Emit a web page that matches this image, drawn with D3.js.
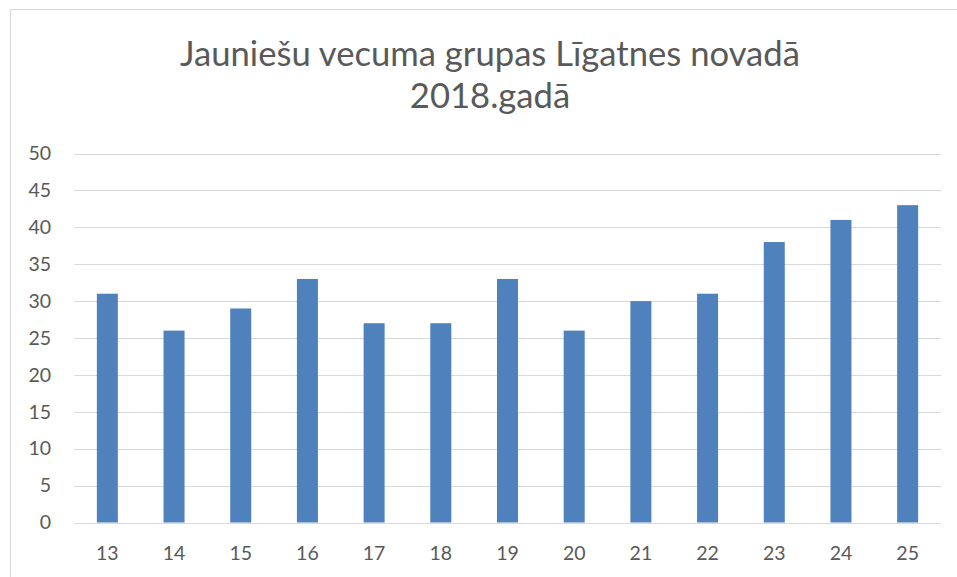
<!DOCTYPE html>
<html><head><meta charset="utf-8">
<script src="https://cdn.jsdelivr.net/npm/d3@7"></script>
<style>body{margin:0;background:#fff}svg{display:block}</style>
</head><body>
<svg id="c" width="957" height="577"></svg>
<script>
const titleLines = ["Jauniešu vecuma grupas Līgatnes novadā", "2018.gadā"];
const categories = ["13","14","15","16","17","18","19","20","21","22","23","24","25"];
const values = [31, 26, 29, 33, 27, 27, 33, 26, 30, 31, 38, 41, 43];
const yTicks = [0, 5, 10, 15, 20, 25, 30, 35, 40, 45, 50];

const svg = d3.select("#c");
const font = "Lato, 'Open Sans', sans-serif";
const txt = "#595959";

// chart border
svg.append("path").attr("d", "M10.5,577 L10.5,9.5 L957,9.5")
  .attr("fill", "none").attr("stroke", "#d9d9d9").attr("stroke-width", 1);

const x = d3.scaleBand().domain(categories).range([74, 941]).paddingInner(0.685).paddingOuter(0.3425);
const y = d3.scaleLinear().domain([0, 50]).range([522.5, 153.5]);

// gridlines
svg.append("g").selectAll("line").data(yTicks).join("line")
  .attr("x1", 74).attr("x2", 941)
  .attr("y1", d => Math.round(y(d)) + 0.5).attr("y2", d => Math.round(y(d)) + 0.5)
  .attr("stroke", "#d9d9d9").attr("stroke-width", 1);

// bars
svg.append("g").selectAll("rect").data(values).join("rect")
  .attr("x", (d, i) => x(categories[i]))
  .attr("width", x.bandwidth())
  .attr("y", d => y(d))
  .attr("height", d => y(0) - y(d))
  .attr("fill", "#4f81bd");

// y axis labels
const yAxis = d3.axisLeft(y).tickValues(yTicks).tickSize(0).tickPadding(0);
const gy = svg.append("g").attr("transform", "translate(51,0)").call(yAxis);
gy.select(".domain").remove();
gy.selectAll("text").attr("font-family", font).attr("font-size", 19.5).attr("fill", txt);

// x axis labels
const xAxis = d3.axisBottom(x).tickSize(0).tickPadding(0);
const gx = svg.append("g").attr("transform", "translate(0,546)").call(xAxis);
gx.select(".domain").remove();
gx.selectAll("text").attr("font-family", font).attr("font-size", 19.5).attr("fill", txt);

// title
const t1 = svg.append("text").attr("x", 490).attr("y", 66).attr("text-anchor", "middle")
  .attr("font-family", font).attr("font-size", 32).attr("fill", txt).text(titleLines[0]);
const w = t1.node().getComputedTextLength();
const fs = 32 * 620 / w;
t1.attr("font-size", fs);
svg.append("text").attr("x", 490).attr("y", 108).attr("text-anchor", "middle")
  .attr("font-family", font).attr("font-size", fs).attr("fill", txt).text(titleLines[1]);
</script>
</body></html>
